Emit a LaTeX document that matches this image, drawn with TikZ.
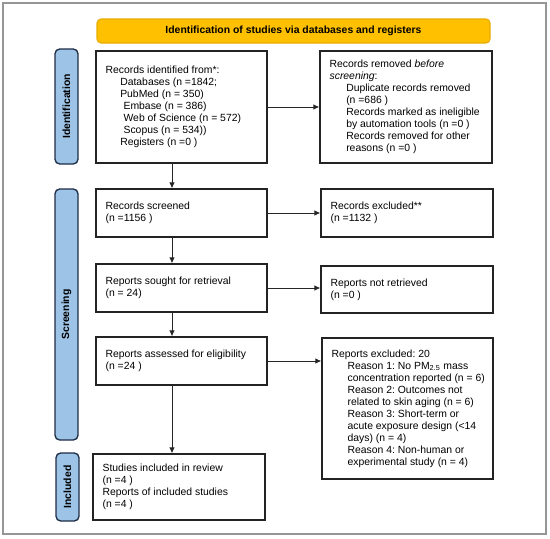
\documentclass[tikz,border=0pt]{standalone}
\usepackage{fontspec}
\setmainfont{Liberation Sans}
\usetikzlibrary{arrows.meta,calc}
\definecolor{hdrfill}{RGB}{255,192,0}
\definecolor{hdrline}{RGB}{232,172,0}
\definecolor{sidefill}{RGB}{157,195,230}
\definecolor{sideline}{RGB}{30,45,70}
\definecolor{framegray}{RGB}{150,150,150}
\definecolor{boxline}{RGB}{35,35,35}
\frenchspacing
\begin{document}
\begin{tikzpicture}[x=0.75pt,y=-0.75pt,
  font=\fontsize{7.8}{9}\selectfont\frenchspacing,
  box/.style={draw=boxline,line width=1pt,inner sep=0pt,fill=white},
  txt/.style={anchor=west,align=left,inner sep=0pt},
  sidebox/.style={draw=sideline,fill=sidefill,line width=1pt,rounded corners=3.5pt,rotate=90,inner sep=0pt,minimum height=17.25pt,font=\fontsize{7.8}{9}\selectfont\bfseries},
  arr/.style={draw=black!85,line width=0.7pt,-{Latex[length=4.5pt,width=4.2pt]}}
]
\useasboundingbox (0,0) rectangle (550,539);
\draw[draw=framegray,line width=0.8pt] (3,3) rectangle (546,534);

\node[draw=hdrline,fill=hdrfill,line width=0.8pt,rounded corners=3pt,minimum width=294.75pt,minimum height=18pt,inner sep=0pt,font=\fontsize{7.8}{9}\selectfont\bfseries] (hdr) at (293.5,31) {Identification of studies via databases and registers};

\node[sidebox,minimum width=86.25pt] (sid) at (66.5,106.5) {Identification};
\node[sidebox,minimum width=188.25pt] (sscr) at (66.5,314.5) {Screening};
\node[sidebox,minimum width=51pt] (sinc) at (67.5,487) {Included};

\node[box,minimum width=128.25pt,minimum height=84pt] (b1) at (181.5,107) {};
\node[box,minimum width=129pt,minimum height=84pt] (b2) at (406,107) {};
\node[box,minimum width=128.25pt,minimum height=36pt] (b3) at (181.5,213) {};
\node[box,minimum width=129pt,minimum height=36pt] (b4) at (407,213) {};
\node[box,minimum width=128.25pt,minimum height=36pt] (b5) at (181.5,288) {};
\node[box,minimum width=129pt,minimum height=35.25pt] (b6) at (407,289.5) {};
\node[box,minimum width=128.25pt,minimum height=36pt] (b7) at (181.5,361) {};
\node[box,minimum width=128.25pt,minimum height=105.75pt] (b8) at (407.5,408.5) {};
\node[box,minimum width=129pt,minimum height=49.5pt] (b9) at (179,487) {};

\node[txt] (t1) at ([xshift=7.5pt]b1.west) {Records identified from*:\\
\hspace*{11pt}Databases (n =1842;\\
\hspace*{11pt}PubMed (n = 350)\\
\hspace*{13.5pt}Embase (n = 386)\\
\hspace*{13.5pt}Web of Science (n = 572)\\
\hspace*{13.5pt}Scopus (n = 534))\\
\hspace*{11pt}Registers (n =0 )};

\node[txt] (t2) at ([xshift=7.5pt]b2.west) {Records removed \textit{before}\\
\textit{screening}:\\
\hspace*{12.5pt}Duplicate records removed\\
\hspace*{12.5pt}(n =686 )\\
\hspace*{12.5pt}Records marked as ineligible\\
\hspace*{12.5pt}by automation tools (n =0 )\\
\hspace*{12.5pt}Records removed for other\\
\hspace*{12.5pt}reasons (n =0 )};

\node[txt] (t3) at ([xshift=7.5pt]b3.west) {Records screened\\(n =1156 )};
\node[txt] (t4) at ([xshift=7.5pt]b4.west) {Records excluded**\\(n =1132 )};
\node[txt] (t5) at ([xshift=7.5pt]b5.west) {Reports sought for retrieval\\(n = 24)};
\node[txt] (t6) at ([xshift=7.5pt]b6.west) {Reports not retrieved\\(n =0 )};
\node[txt] (t7) at ([xshift=7.5pt]b7.west) {Reports assessed for eligibility\\(n =24 )};

\node[txt] (t8) at ([xshift=7.5pt]b8.west) {Reports excluded: 20\\
\hspace*{12pt}Reason 1: No PM\textsubscript{2.5} mass\\
\hspace*{12pt}concentration reported (n = 6)\\
\hspace*{12pt}Reason 2: Outcomes not\\
\hspace*{12pt}related to skin aging (n = 6)\\
\hspace*{12pt}Reason 3: Short-term or\\
\hspace*{12pt}acute exposure design (<14\\
\hspace*{12pt}days) (n = 4)\\
\hspace*{12pt}Reason 4: Non-human or\\
\hspace*{12pt}experimental study (n = 4)};

\node[txt] (t9) at ([xshift=7.5pt]b9.west) {Studies included in review\\(n =4 )\\Reports of included studies\\(n =4 )};

\coordinate (vx) at (172,0);
\draw[arr] (b1.south -| vx) -- (b3.north -| vx);
\draw[arr] (b3.south -| vx) -- (b5.north -| vx);
\draw[arr] (b5.south -| vx) -- (b7.north -| vx);
\draw[arr] (b7.south -| vx) -- (b9.north -| vx);
\draw[arr] (b1.east) -- (b1.east -| b2.west);
\draw[arr] (b3.east) -- (b3.east -| b4.west);
\draw[arr] (b5.east) -- (b5.east -| b6.west);
\draw[arr] (b7.east) -- (b7.east -| b8.west);
\end{tikzpicture}
\end{document}
